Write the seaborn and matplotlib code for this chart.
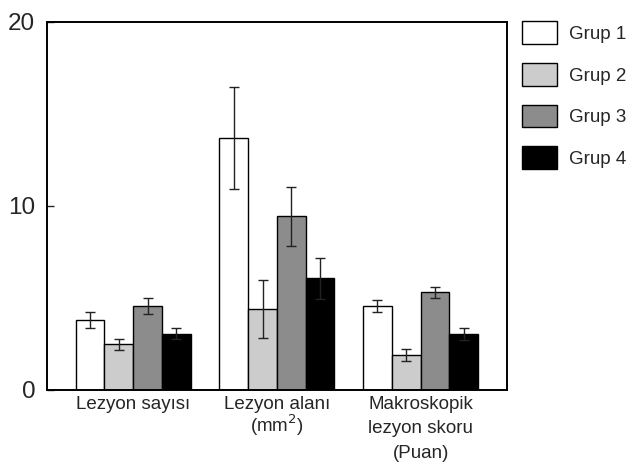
import numpy as np
import pandas as pd
import matplotlib
matplotlib.use("Agg")
import matplotlib.pyplot as plt
import seaborn as sns

categories = ["Lezyon sayısı", "Lezyon alanı\n(mm$^2$)", "Makroskopik\nlezyon skoru\n(Puan)"]
groups = ["Grup 1", "Grup 2", "Grup 3", "Grup 4"]
colors = ["#ffffff", "#cccccc", "#8c8c8c", "#000000"]

# means per group, in category order
grup1 = [3.8, 13.7, 4.55]
grup2 = [2.48, 4.4, 1.9]
grup3 = [4.55, 9.45, 5.3]
grup4 = [3.06, 6.07, 3.06]
# standard errors
err1 = [0.42, 2.75, 0.33]
err2 = [0.3, 1.6, 0.32]
err3 = [0.43, 1.6, 0.32]
err4 = [0.3, 1.1, 0.33]

means = [grup1, grup2, grup3, grup4]
errs = [err1, err2, err3, err4]

rows = []
for g, vals, es in zip(groups, means, errs):
    for c, v, e in zip(categories, vals, es):
        rows.append({"kategori": c, "grup": g, "deger": v, "hata": e})
df = pd.DataFrame(rows)

sns.set_style("white")
plt.rcParams['font.family'] = ['Liberation Sans', 'DejaVu Sans']

fig = plt.figure(figsize=(6.28, 4.73), dpi=100)
ax = fig.add_axes([0.0748, 0.1755, 0.7322, 0.778])

sns.barplot(data=df, x="kategori", y="deger", hue="grup", palette=colors,
            width=0.8, edgecolor="black", linewidth=1.0, errorbar=None, ax=ax)

# error bars on top of each bar
for cont, g in zip(ax.containers, groups):
    sub = df[df["grup"] == g]
    xs = [p.get_x() + p.get_width() / 2 for p in cont]
    ax.errorbar(xs, sub["deger"].values, yerr=sub["hata"].values, fmt="none",
                ecolor="#222222", elinewidth=1.0, capsize=3.5, capthick=1.0, zorder=5)

ax.set_xlim(-0.6, 2.6)
ax.set_ylim(0, 20)
ax.set_yticks([0, 10, 20])
ax.set_yticklabels(["0", "10", "20"], fontsize=17.5)
ax.tick_params(axis="y", direction="in", length=5, width=1, pad=8.5, left=True)
ax.tick_params(axis="x", length=0, pad=4)
for i, lab in enumerate(ax.get_xticklabels()):
    lab.set_fontsize(13.5)
    lab.set_linespacing(1.0 if i == 1 else 1.6)
ax.set_xlabel("")
ax.set_ylabel("")
for s in ax.spines.values():
    s.set_visible(True)
    s.set_color("black")
    s.set_linewidth(1.4)

handles, labels = ax.get_legend_handles_labels()
ax.legend(handles, labels, loc="upper left", bbox_to_anchor=(0.831, 0.955),
          bbox_transform=fig.transFigure, frameon=False, fontsize=13.5,
          handlelength=1.9, handleheight=1.5, labelspacing=1.0, handletextpad=0.6,
          borderaxespad=0, borderpad=0)

fig.savefig("out.png", dpi=100)
